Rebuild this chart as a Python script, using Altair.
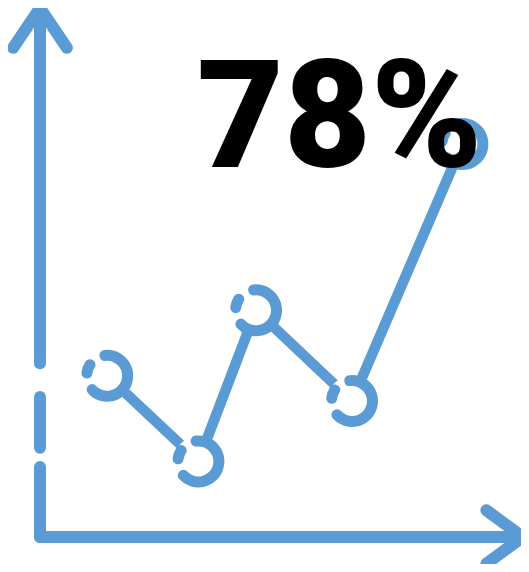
import altair as alt
import pandas as pd
import numpy as np

# ---- data ----
steps = [14, 33, 45, 65, 88]      # x positions, axis units
values = [32, 15, 45, 27, 78]     # y values, percent
label = f"{values[-1]}%"

# ---- style constants ----
BLUE = "#5B9BD5"
W, H = 513, 556
xs = alt.Scale(domain=[0, 100], range=[32, 512])
ys = alt.Scale(domain=[0, 105], range=[529, 0])
ring_pieces = [(-22, 243), (262, 318)]   # degrees, clockwise from 12 o'clock
y_axis_dashes = [(0, 13.9), (17.7, 27.8), (34.5, 105)]
x_axis_end = 100.6

pts = pd.DataFrame({"x": steps, "y": values})
segs = pd.DataFrame({"x": steps[:-1], "y": values[:-1], "x2": steps[1:], "y2": values[1:]})

X = lambda f="x": alt.X(f"{f}:Q", scale=xs, axis=None)
Y = lambda f="y": alt.Y(f"{f}:Q", scale=ys, axis=None)

lines = alt.Chart(segs).mark_rule(color=BLUE, strokeWidth=10.5, strokeCap="round").encode(
    x=X(), y=Y(), x2="x2:Q", y2="y2:Q")

mask = alt.Chart(pts).mark_circle(size=50 ** 2, color="white", opacity=1).encode(x=X(), y=Y())

arc_rows = []
for sx, vy in zip(steps, values):
    for a, b in ring_pieces:
        arc_rows.append({"x": sx, "y": vy, "t1": np.radians(a), "t2": np.radians(b)})
arcs = alt.Chart(pd.DataFrame(arc_rows)).mark_arc(
    radius=26, radius2=15, cornerRadius=5.5, color=BLUE).encode(
    x=X(), y=Y(), theta=alt.Theta("t1:Q", scale=None), theta2="t2:Q")

# axes as arrows
ax_rows = []
for a, b in y_axis_dashes:
    ax_rows.append({"x": 0, "y": a, "x2": 0, "y2": b})
ax_rows.append({"x": 0, "y": 0, "x2": x_axis_end, "y2": 0})
axis_lines = alt.Chart(pd.DataFrame(ax_rows)).mark_rule(
    color=BLUE, strokeWidth=12, strokeCap="round").encode(x=X(), y=Y(), x2="x2:Q", y2="y2:Q")

head_rows = [
    {"g": "y", "o": 0, "x": -5.6, "y": 97.1},
    {"g": "y", "o": 1, "x": 0, "y": 105},
    {"g": "y", "o": 2, "x": 5.6, "y": 97.1},
    {"g": "x", "o": 0, "x": 93.0, "y": 5.3},
    {"g": "x", "o": 1, "x": x_axis_end, "y": 0},
    {"g": "x", "o": 2, "x": 93.0, "y": -5.3},
]
heads = alt.Chart(pd.DataFrame(head_rows)).mark_line(
    color=BLUE, strokeWidth=12, strokeCap="round", strokeJoin="round").encode(
    x=X(), y=Y(), detail="g:N", order="o:Q")

txt = alt.Chart(pts.tail(1)).mark_text(
    text=label, font="Roboto", fontWeight=900, fontSize=150, color="black",
    align="right", baseline="alphabetic", dx=20, dy=23).encode(x=X(), y=Y())

chart = alt.layer(lines, mask, arcs, axis_lines, heads, txt).properties(
    width=W, height=H, autosize=alt.AutoSizeParams(type="none"), padding=0,
    background="white").configure_view(stroke=None)

chart.save("out.html", embed_options={"renderer": "svg", "actions": False})
